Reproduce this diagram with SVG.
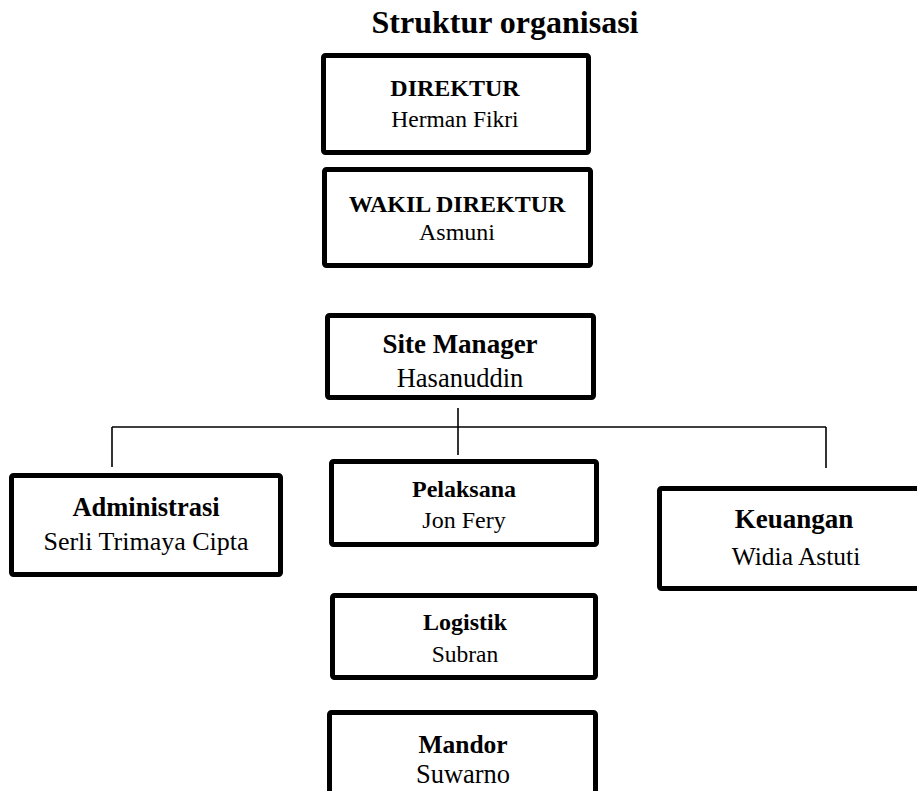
<svg xmlns="http://www.w3.org/2000/svg" width="917" height="791" viewBox="0 0 917 791">
<style>
.box{fill:#fff;stroke:#000;stroke-width:5;stroke-linejoin:round}
.t{font-family:"Liberation Serif","Times New Roman",serif;fill:#000;text-anchor:middle}
.b{font-weight:bold}
.c{stroke:#000;stroke-width:1.6;fill:none}
</style>
<rect width="917" height="791" fill="#fff"/>
<text class="t b" x="505" y="33" font-size="32">Struktur organisasi</text>
<g id="connectors">
<line class="c" x1="458" y1="408" x2="458" y2="455"/>
<line class="c" x1="112" y1="427" x2="826" y2="427"/>
<line class="c" x1="112" y1="427" x2="112" y2="467"/>
<line class="c" x1="826" y1="427" x2="826" y2="468"/>
</g>
<g id="direktur">
<rect class="box" x="323.5" y="55.5" width="265" height="97" rx="2"/>
<text class="t b" x="455" y="96" font-size="24">DIREKTUR</text>
<text class="t" x="455" y="127" font-size="23.5">Herman Fikri</text>
</g>
<g id="wakil">
<rect class="box" x="324.5" y="169.5" width="266" height="96" rx="2"/>
<text class="t b" x="457" y="212" font-size="24">WAKIL DIREKTUR</text>
<text class="t" x="457" y="240" font-size="24">Asmuni</text>
</g>
<g id="site-manager">
<rect class="box" x="327.5" y="315.5" width="266" height="82" rx="2"/>
<text class="t b" x="460" y="353" font-size="27">Site Manager</text>
<text class="t" x="460" y="387" font-size="26.5">Hasanuddin</text>
</g>
<g id="administrasi">
<rect class="box" x="11.5" y="475.5" width="269" height="99" rx="2"/>
<text class="t b" x="146" y="516" font-size="26.5">Administrasi</text>
<text class="t" x="146" y="550" font-size="26">Serli Trimaya Cipta</text>
</g>
<g id="pelaksana">
<rect class="box" x="331.5" y="461.5" width="265" height="83" rx="2"/>
<text class="t b" x="464" y="497" font-size="24">Pelaksana</text>
<text class="t" x="464" y="528" font-size="24">Jon Fery</text>
</g>
<g id="keuangan">
<rect class="box" x="659.5" y="488.5" width="300" height="100" rx="2"/>
<text class="t b" x="794" y="528" font-size="27">Keuangan</text>
<text class="t" x="796" y="565" font-size="25.5">Widia Astuti</text>
</g>
<g id="logistik">
<rect class="box" x="332.5" y="595.5" width="263" height="82" rx="2"/>
<text class="t b" x="465" y="630" font-size="24">Logistik</text>
<text class="t" x="465" y="662" font-size="23.5">Subran</text>
</g>
<g id="mandor">
<rect class="box" x="329.5" y="712.5" width="266" height="85" rx="2"/>
<text class="t b" x="463" y="753" font-size="25.5">Mandor</text>
<text class="t" x="463" y="783" font-size="26.5">Suwarno</text>
</g>
</svg>
